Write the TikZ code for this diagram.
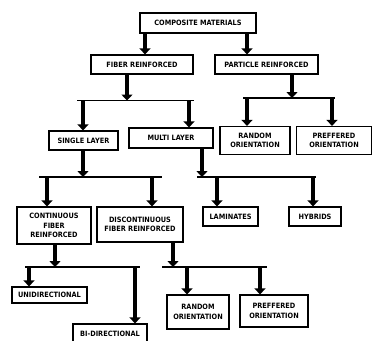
\documentclass[tikz,border=0pt]{standalone}
\usepackage{fontspec}
\usepackage{tikz}
\usetikzlibrary{arrows.meta}
\newfontfamily\boxfont{DejaVu Sans Condensed}

\tikzset{
  matbox/.style={draw, line width=1.2pt, fill=white, align=center, inner sep=1pt,
                 font=\boxfont\bfseries\fontsize{7.3}{9.5}\selectfont},
  fatarrow/.style={line width=4pt, -{Triangle[width=11pt,length=6pt]}},
  splitbar/.style={line width=1.8pt}
}

\begin{document}
\begin{tikzpicture}[x=1pt,y=-1pt]
        \path[use as bounding box, clip] (0,0) rectangle (372,340);        %
        \node[matbox, minimum width=116pt, minimum height=20pt] (comp)   at (198,23)    {COMPOSITE MATERIALS};
        \node[matbox, minimum width=102pt, minimum height=19pt] (fiber)  at (142,64.5)  {FIBER REINFORCED};
        \node[matbox, minimum width=103pt, minimum height=19pt] (part)   at (266.5,64.5){PARTICLE REINFORCED};
        \node[matbox, minimum width=69pt,  minimum height=19pt] (single) at (83.5,140.5) {SINGLE LAYER};
        \node[matbox, minimum width=84pt,  minimum height=20pt] (multi)  at (171,138)   {MULTI LAYER};
        \node[matbox, minimum width=70pt,  minimum height=28pt] (randA)  at (255,140.5) {RANDOM\\ORIENTATION};
        \node[matbox, minimum width=75pt,  minimum height=28pt] (prefA)  at (334,140.5) {PREFFERED\\ORIENTATION};
        \node[matbox, minimum width=74pt,  minimum height=37pt] (cont)   at (54,225.5)  {CONTINUOUS\\FIBER\\REINFORCED};
        \node[matbox, minimum width=86pt,  minimum height=35pt] (disc)   at (140,224.5) {DISCONTINUOUS\\FIBER REINFORCED};
        \node[matbox, minimum width=55pt,  minimum height=19pt] (lam)    at (230.5,216.5){LAMINATES};
        \node[matbox, minimum width=52pt,  minimum height=19pt] (hyb)    at (315,216.5) {HYBRIDS};
        \node[matbox, minimum width=75pt,  minimum height=16pt] (uni)    at (49.5,295)  {UNIDIRECTIONAL};
        \node[matbox, minimum width=74pt,  minimum height=19pt] (bi)     at (110,333.5) {BI-DIRECTIONAL};
        \node[matbox, minimum width=62pt,  minimum height=34pt] (randB)  at (198,312)   {RANDOM\\ORIENTATION};
        \node[matbox, minimum width=68pt,  minimum height=32pt] (prefB)  at (274,311)   {PREFFERED\\ORIENTATION};
        %
        \coordinate (cf) at (145,0);  \coordinate (cp) at (247,0);         %top
        \draw[fatarrow] (cf |- comp.south) -- (cf |- fiber.north);         %
        \draw[fatarrow] (cp |- comp.south) -- (cp |- part.north);          %
        %
        \coordinate (jA) at (127,100.5); \coordinate (A1) at (83,100.5);  \coordinate (A2) at (189,100.5);
        \draw[fatarrow] (jA |- fiber.south) -- (jA);                       %fiber
        \draw[splitbar] ([xshift=-6pt]A1) -- ([xshift=5pt]A2);             %
        \draw[fatarrow] (A1) -- (A1 |- single.north);                      %
        \draw[fatarrow] (A2) -- (A2 |- multi.north);                       %
        %
        \coordinate (jB) at (292,98); \coordinate (B1) at (247,98);  \coordinate (B2) at (332,98);
        \draw[fatarrow] (jB |- part.south) -- (jB);                        %particle
        \draw[splitbar] ([xshift=-4pt]B1) -- ([xshift=3pt]B2);             %
        \draw[fatarrow] (B1) -- (B1 |- randA.north);                       %
        \draw[fatarrow] (B2) -- (B2 |- prefA.north);                       %
        %
        \coordinate (jC) at (83,177); \coordinate (C1) at (47,177);  \coordinate (C2) at (152,177);
        \draw[fatarrow] (jC |- single.south) -- (jC);                      %single
        \draw[splitbar] ([xshift=-8pt]C1) -- ([xshift=10pt]C2);            %
        \draw[fatarrow] (C1) -- (C1 |- cont.north);                        %
        \draw[fatarrow] (C2) -- (C2 |- disc.north);                        %
        %
        \coordinate (jD) at (202,177); \coordinate (D1) at (217,177); \coordinate (D2) at (313,177);
        \draw[fatarrow] (jD |- multi.south) -- (jD);                       %multi
        \draw[splitbar] ([xshift=-20pt]D1) -- ([xshift=3pt]D2);            %
        \draw[fatarrow] (D1) -- (D1 |- lam.north);                         %
        \draw[fatarrow] (D2) -- (D2 |- hyb.north);                         %
        %
        \coordinate (jE) at (55,267); \coordinate (E1) at (29,267);  \coordinate (E2) at (135,267);
        \draw[fatarrow] (jE |- cont.south) -- (jE);                        %continuous
        \draw[splitbar] ([xshift=-4pt]E1) -- ([xshift=5pt]E2);             %
        \draw[fatarrow] (E1) -- (E1 |- uni.north);                         %
        \draw[fatarrow] (E2) -- (E2 |- bi.north);                          %
        %
        \coordinate (jF) at (173,267); \coordinate (F1) at (187,267); \coordinate (F2) at (260,267);
        \draw[fatarrow] (jF |- disc.south) -- (jF);                        %discontinuous
        \draw[splitbar] ([xshift=-25pt]F1) -- ([xshift=7pt]F2);            %
        \draw[fatarrow] (F1) -- (F1 |- randB.north);                       %
        \draw[fatarrow] (F2) -- (F2 |- prefB.north);                       %
\end{tikzpicture}
\end{document}
